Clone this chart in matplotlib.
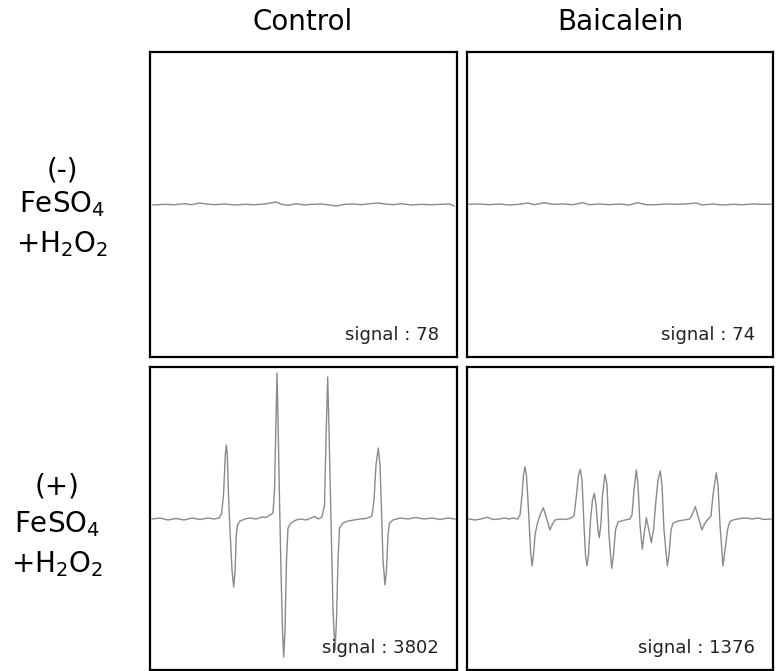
import matplotlib
matplotlib.use("Agg")
import matplotlib.pyplot as plt

# EPR traces (x: field position, y: intensity, baseline = 0)
ctrl_neg_x = [3, 14.7, 24.7, 34.7, 41.3, 49.7, 56.3, 64.7, 74.7, 84.7, 94.7, 104.7, 114.7, 126.3,
              131.3, 138, 146.3, 154.7, 161.3, 171.3, 179.7, 186.3, 194.7, 203, 211.3, 219.7, 228,
              234.7, 243, 251.3, 261.3, 271.3, 281.3, 291.3, 299.7, 304]
ctrl_neg_y = [-1, -0.3, -0.7, 0.3, -0.7, 1, 0, -0.7, 0, -1, -0.3, -0.7, 0, 2,
              -0.3, -1.3, 0.3, -1, -0.3, 0, -1, -2, -0.3, 0, -0.7, 0.3, 1,
              0, -0.7, 0.3, -1, -0.3, -0.7, -0.3, 0, -2]

baic_neg_x = [2.3, 12.3, 22.3, 32.3, 42.3, 52.3, 60.7, 67.3, 77.3, 85.7, 95.7, 105.7, 115.7, 122.3,
              132.3, 142.3, 152.3, 162.3, 170.7, 179, 189, 199, 209, 219, 229, 235.7, 245.7,
              255.7, 265.7, 275.7, 285.7, 295.7, 304]
baic_neg_y = [-0.3, 0, -0.7, 0, -1, -0.3, 1, -0.7, 1.3, -0.3, 0, -0.7, 1.3, -0.7,
              0, -0.7, 0, -1, 1.3, -0.7, -0.7, 0, -0.3, 0, 1, -1, 0,
              -1, -0.3, -0.7, 0, -0.3, -0.3]

ctrl_pos_x = [2, 10, 18, 26, 34, 42, 50, 58, 64, 69,
              71.5, 73.5, 75.3, 76.3, 77.3, 78.5, 80, 82, 83.7, 85, 86.3, 87.5, 90, 95, 100, 106,
              112, 116, 120, 123,
              124.5, 126, 127, 128, 129.5, 131, 132.5, 133.7, 135, 136.5, 138, 141, 146, 151, 156,
              161, 165, 168, 172, 174.5,
              176, 177.7, 179, 181, 183, 185, 186.5, 188, 189.5, 193, 198, 204, 210, 216, 220, 222,
              224, 226, 228.3, 230, 231.5, 233, 235, 236.5, 238, 239.5, 243,
              250, 258, 266, 274, 282, 290, 298, 305]
ctrl_pos_y = [0, 1, -1, 0.5, -1, 1, -0.5, 1, 0, 1,
              5, 24, 64, 74, 64, 24, -11, -51, -68, -53, -16, -6, -2, 0, 1, 0,
              2, 1.5, 4, 6,
              29, 99, 146, 99, 19, -51, -111, -138, -111, -41, -9, -4, -1, 0, -1,
              1, 2.5, 0, 2, 14,
              79, 142, 89, -1, -91, -131, -101, -41, -9, -4, -2, -1, 0, 0.5, 2, 3,
              19, 54, 71, 54, 9, -41, -66, -51, -16, -4, -1,
              1, 0, 1.5, 0, 1, -0.5, 1, 0]

baic_pos_x = [2, 8, 14, 20.7, 26, 32, 38, 42, 46, 50.7,
              53, 55, 56.5, 58, 59.5, 61.5, 63.5, 65, 66.5, 68, 70, 73, 76.3, 79.5, 83, 85.5, 88,
              93, 99, 104, 107,
              109.5, 111.5, 113.3, 115, 117, 118.5, 120, 121.5, 123.5, 125.5, 127.3, 129, 131,
              132.3, 133.8, 135.5, 138, 140, 142, 144.7, 146.5, 148.5, 151, 156, 162.7, 165,
              167, 169.3, 171, 173, 175.3, 177, 179.3, 181.5, 184.3, 186.5, 189, 191, 193.3, 195,
              197, 200.3, 202, 204, 206, 211, 217, 222.7, 225, 228.3, 231.5, 235, 237.5, 240.3, 244,
              246, 249.3, 251, 253, 256, 258, 260.5, 262.7, 266,
              273, 279, 285, 291, 297, 304]
baic_pos_y = [0, -1, 0, 1.7, -0.5, 0, 1, 0, 1, 0,
              4, 24, 44, 52.3, 43, 9, -31, -47, -36, -16, -6, 4, 11.3, 1, -11, -5, -1,
              0, -0.5, 1, 3,
              24, 44, 49.7, 39, -6, -36, -47, -36, -1, 19, 25.7, 14, -11,
              -18.7, -6, 24, 44.7, 34, -16, -49.3, -36, -11, -3, -1.5, 0, 4,
              29, 49, 34, -6, -30.3, -16, 1.3, -9, -23.7, -11, 19, 39, 48, 34,
              -11, -47, -36, -11, -4.3, -2, -1, 0, 4, 12.3, 1, -11, -5, -1, 3,
              24, 46.3, 34, -6, -47, -31, -11, -2.7, -1,
              0.5, 1, 0, 1, -0.5, 0]

columns = ["Control", "Baicalein"]
rows = [["(-)", "FeSO$_4$", "+H$_2$O$_2$"], ["(+)", "FeSO$_4$", "+H$_2$O$_2$"]]
signals = [[78, 74], [3802, 1376]]

traces = [[(ctrl_neg_x, ctrl_neg_y), (baic_neg_x, baic_neg_y)],
          [(ctrl_pos_x, ctrl_pos_y), (baic_pos_x, baic_pos_y)]]

W, H = 776, 671
fig = plt.figure(figsize=(W / 100, H / 100), dpi=100)

# panel boxes in pixels: left, top, right, bottom
col_px = [(150, 457), (467, 773)]
row_px = [(52, 357), (367, 670)]
ylims = [(-153, 152), (-151, 152)]

for r in range(2):
    for c in range(2):
        x0, x1 = col_px[c]
        y0, y1 = row_px[r]
        ax = fig.add_axes([x0 / W, 1 - y1 / H, (x1 - x0) / W, (y1 - y0) / H])
        xs, ys = traces[r][c]
        ax.plot(xs, ys, color="#8a8a8a", lw=1.0)
        ax.set_xlim(0, x1 - x0)
        ax.set_ylim(*ylims[r])
        ax.set_xticks([])
        ax.set_yticks([])
        for s in ax.spines.values():
            s.set_linewidth(1.6)
            s.set_color("black")
        ax.text(1 - 18 / (x1 - x0), 17 / (y1 - y0), f"signal : {signals[r][c]}",
                transform=ax.transAxes, ha="right", va="baseline", fontsize=13, color="#222222")

# column titles
fig.text(303 / W, 1 - 22 / H, columns[0], ha="center", va="center", fontsize=20)
fig.text(620 / W, 1 - 22 / H, columns[1], ha="center", va="center", fontsize=20)

# row labels
label_base = [[178, 212, 252], [494, 532, 572]]
label_x = [62, 57]
for r in range(2):
    for i, t in enumerate(rows[r]):
        fig.text(label_x[r] / W, 1 - label_base[r][i] / H, t, ha="center", va="baseline", fontsize=20)

fig.savefig("out.png", dpi=100)
